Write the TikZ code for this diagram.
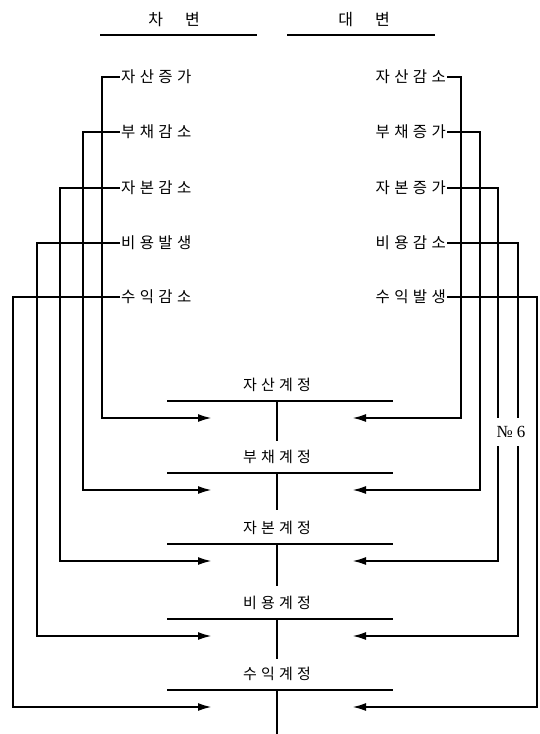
\documentclass[tikz,border=0pt]{standalone}
\usepackage{fontspec}
\setmainfont{Liberation Serif}
\newfontfamily\kr[LetterSpace=28]{Noto Sans CJK KR}
\newfontfamily\krhead{Noto Sans CJK KR}
\usetikzlibrary{arrows.meta,positioning}

\begin{document}
\begin{tikzpicture}[x=1pt,y=-1pt,
    lbl/.style={font=\kr\fontsize{15.5}{15.5}\selectfont,inner sep=1pt},
    acct/.style={font=\kr\fontsize{15}{15}\selectfont,inner sep=1pt},
    head/.style={font=\krhead\fontsize{16}{16}\selectfont,inner sep=1pt},
    arr/.style={line width=2.2pt,-{Latex[length=14pt,width=8pt]}},
    trule/.style={line width=1.2pt},
    hrule/.style={line width=1.6pt}]
\useasboundingbox (0,0) rectangle (540,734);

% Headings
\node[head] (dr) at (174,20) {차\hspace{22pt}변};
\node[head] (cr) at (364,20) {대\hspace{22pt}변};
\draw[hrule] (100,35) -- (257,35);
\draw[hrule] (287,35) -- (435,35);

% Accounts (T-accounts)
\foreach \name/\txt/\y/\len in {asset/자산계정/401/40, liab/부채계정/473/37,
    cap/자본계정/544/42, cost/비용계정/619/40, rev/수익계정/690/44} {
  \coordinate (\name) at (277,\y);
  \node[acct,above=8pt of \name] (\name T) {\txt};
  \draw[trule] ([xshift=-110pt]\name) -- ([xshift=116pt]\name);
  \draw[trule] (\name) -- ++(0,\len);
  \coordinate (\name L) at (212,\y+17);
  \coordinate (\name R) at (352,\y+17);
}

% Debit side
\foreach \i/\txt/\y/\x/\acc in {1/자산증가/77/102/asset, 2/부채감소/132/83/liab,
    3/자본감소/188/60/cap, 4/비용발생/243/37/cost, 5/수익감소/297/13/rev} {
  \node[lbl,anchor=west] (dl\i) at (120,\y) {\txt};
  \coordinate (kl\i) at (\x,0);
  \draw[arr] (dl\i.west) -| (kl\i |- \acc L) -- (\acc L);
}

% Credit side
\foreach \i/\txt/\y/\x/\acc in {1/자산감소/77/461/asset, 2/부채증가/132/480/liab,
    3/자본증가/188/498/cap, 4/비용감소/243/518/cost, 5/수익발생/297/537/rev} {
  \node[lbl,anchor=east] (cl\i) at (447,\y) {\txt};
  \coordinate (kr\i) at (\x,0);
  \draw[arr] (cl\i.east) -| (kr\i |- \acc R) -- (\acc R);
}

% page mark
\node[fill=white,inner xsep=1pt,inner ysep=8pt,font=\fontsize{17}{17}\selectfont] (no) at (511,432) {№ 6};
\end{tikzpicture}
\end{document}
